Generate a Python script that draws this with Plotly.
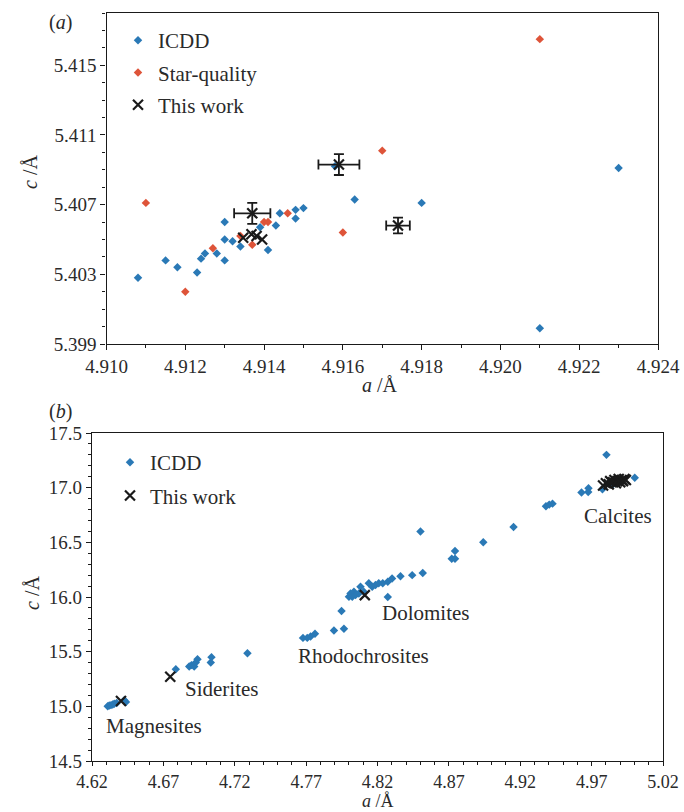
import plotly.graph_objects as go

# ---------------- Panel (a): quartz-like lattice a vs c ----------------
icdd_a_x = [4.9108, 4.9115, 4.9118, 4.9123, 4.9124, 4.9125, 4.9128, 4.9130, 4.9130,
            4.9130, 4.9132, 4.9134, 4.9139, 4.9141, 4.9143, 4.9144, 4.9148, 4.9148,
            4.9150, 4.9158, 4.9163, 4.9180, 4.9230, 4.9210]
icdd_a_y = [5.4028, 5.4038, 5.4034, 5.4031, 5.4039, 5.4042, 5.4042, 5.4038, 5.4050,
            5.4060, 5.4049, 5.4046, 5.4057, 5.4044, 5.4058, 5.4065, 5.4067, 5.4062,
            5.4068, 5.4092, 5.4073, 5.4071, 5.4091, 5.3999]

star_x = [4.9110, 4.9120, 4.9127, 4.9134, 4.9137, 4.9140, 4.9141, 4.9146, 4.9160,
          4.9170, 4.9210]
star_y = [5.4071, 5.4020, 5.4045, 5.4052, 5.4047, 5.4060, 5.4060, 5.4065, 5.4054,
          5.4101, 5.4165]

work_err_x = [4.9137, 4.9159, 4.9174]
work_err_y = [5.4065, 5.4093, 5.4058]
work_err_dx = [0.00046, 0.00052, 0.00030]
work_err_dy = [0.00060, 0.00060, 0.00045]

work_a_x = [4.91347, 4.91368, 4.91381, 4.91395]
work_a_y = [5.4051, 5.4053, 5.4052, 5.4050]

# ---------------- Panel (b): carbonates ----------------
icdd_b_x = [
    # magnesites
    4.6310, 4.6321, 4.6333, 4.6345, 4.6356, 4.6373, 4.6426, 4.6438,
    # siderites
    4.6787, 4.6881, 4.6897, 4.6916, 4.6927, 4.6939, 4.7032, 4.7037, 4.7289,
    # rhodochrosites
    4.7678, 4.7708, 4.7731, 4.7762, 4.7895, 4.7965, 4.7948,
    # dolomites
    4.8000, 4.8011, 4.8023, 4.8035, 4.8046, 4.8069, 4.8081, 4.8104, 4.8139,
    4.8163, 4.8186, 4.8209, 4.8237, 4.8272, 4.8302, 4.8272, 4.8361, 4.8443,
    4.8517, 4.8501,
    # intermediate / calcites
    4.8720, 4.8743, 4.8743, 4.8941, 4.9153, 4.9380, 4.9403, 4.9426, 4.9629,
    4.9676, 4.9678, 4.9776, 4.9804, 5.0002, 4.9850, 4.9900]
icdd_b_y = [
    15.000, 15.008, 15.011, 15.017, 15.023, 15.030, 15.055, 15.040,
    15.340, 15.365, 15.377, 15.365, 15.400, 15.430, 15.400, 15.450, 15.485,
    15.626, 15.626, 15.638, 15.663, 15.694, 15.709, 15.872,
    16.002, 16.032, 16.002, 16.048, 16.017, 16.032, 16.094, 16.048, 16.125,
    16.094, 16.109, 16.125, 16.125, 16.140, 16.170, 16.000, 16.190, 16.200,
    16.220, 16.600,
    16.350, 16.350, 16.420, 16.500, 16.640, 16.830, 16.845, 16.854, 16.955,
    16.960, 16.995, 16.986, 17.300, 17.090, 17.030, 17.060]

work_b_x = [4.6403, 4.6748, 4.8111,
            4.978, 4.980, 4.982, 4.983, 4.985, 4.986, 4.987, 4.988, 4.989,
            4.990, 4.991, 4.992, 4.993, 4.994]
work_b_y = [15.048, 15.270, 16.017,
            17.02, 17.04, 17.03, 17.06, 17.05, 17.07, 17.04, 17.06, 17.08,
            17.05, 17.07, 17.06, 17.08, 17.07]

group_labels = ["Magnesites", "Siderites", "Rhodochrosites", "Dolomites", "Calcites"]
group_label_x = [4.6631, 4.7111, 4.8100, 4.8543, 4.9883]
group_label_y = [14.82, 15.16, 15.46, 15.85, 16.74]

BLUE = "#2A79B6"
RED = "#DE5439"
INK = "#1a1a1a"
TXT = "#2a2a2a"
FONT = "'Liberation Serif', 'Times New Roman', Times, serif"
W, H = 684, 812


def px(x):
    return x / W


def py(y):
    return 1 - y / H


fig = go.Figure()

dia = dict(symbol="diamond", size=6.5, line=dict(width=0))
xm = dict(symbol="x-thin", size=10, color=INK, line=dict(width=2.2, color=INK))

# panel (a)
fig.add_trace(go.Scatter(x=icdd_a_x, y=icdd_a_y, mode="markers", name="ICDD",
                         marker=dict(color=BLUE, **dia), xaxis="x", yaxis="y",
                         legend="legend", legendgroup="g1"))
fig.add_trace(go.Scatter(x=star_x, y=star_y, mode="markers", name="Star-quality",
                         marker=dict(color=RED, **dia), xaxis="x", yaxis="y",
                         legend="legend", legendgroup="g2"))
fig.add_trace(go.Scatter(x=work_err_x, y=work_err_y, mode="markers", name="This work",
                         marker=xm, xaxis="x", yaxis="y", showlegend=False,
                         error_x=dict(type="data", array=work_err_dx, color=INK,
                                      thickness=1.8, width=5),
                         error_y=dict(type="data", array=work_err_dy, color=INK,
                                      thickness=1.8, width=5)))
fig.add_trace(go.Scatter(x=work_a_x, y=work_a_y, mode="markers", name="This work",
                         marker=xm, xaxis="x", yaxis="y",
                         legend="legend", legendgroup="g3"))

# panel (b)
fig.add_trace(go.Scatter(x=icdd_b_x, y=icdd_b_y, mode="markers", name="ICDD",
                         marker=dict(color=BLUE, **dia), xaxis="x2", yaxis="y2",
                         legend="legend2", legendgroup="h1"))
fig.add_trace(go.Scatter(x=work_b_x, y=work_b_y, mode="markers", name="This work",
                         marker=xm, xaxis="x2", yaxis="y2",
                         legend="legend2", legendgroup="h2"))

tickfont = dict(family=FONT, size=19, color=TXT)
axis_common = dict(showline=True, linecolor=INK, linewidth=1.4, mirror=True,
                   tickwidth=1.2, tickcolor=INK, ticks="outside",
                   showgrid=False, zeroline=False, automargin=False)

fig.update_layout(
    width=W, height=H,
    margin=dict(l=0, r=0, t=0, b=0),
    paper_bgcolor="white", plot_bgcolor="white",
    font=dict(family=FONT, color=TXT),
    xaxis=dict(domain=[px(106.5), px(658)], anchor="y", range=[4.910, 4.924],
               tick0=4.910, dtick=0.002, tickformat=".3f", ticklen=5,
               tickfont=tickfont,
               minor=dict(dtick=0.001, ticks="outside", ticklen=3, tickcolor=INK),
               **axis_common),
    yaxis=dict(domain=[py(344), py(13)], anchor="x", range=[5.399, 5.418],
               tick0=5.399, dtick=0.004, tickformat=".3f", ticklen=5,
               tickfont=tickfont,
               minor=dict(dtick=0.001, ticks="outside", ticklen=3, tickcolor=INK),
               **axis_common),
    xaxis2=dict(domain=[px(92), px(663)], anchor="y2", range=[4.62, 5.02],
                tick0=4.62, dtick=0.05, tickformat=".2f", ticklen=4,
                tickfont=dict(family=FONT, size=18, color=TXT),
                minor=dict(dtick=0.01, ticks="outside", ticklen=3, tickcolor=INK),
                **axis_common),
    yaxis2=dict(domain=[py(761), py(433)], anchor="x2", range=[14.5, 17.5],
                tick0=14.5, dtick=0.5, tickformat=".1f", ticklen=5,
                tickfont=tickfont,
                minor=dict(dtick=0.1, ticks="outside", ticklen=3, tickcolor=INK),
                **axis_common),
    legend=dict(x=px(118), y=py(20), xanchor="left", yanchor="top",
                bgcolor="rgba(0,0,0,0)", borderwidth=0,
                font=dict(family=FONT, size=21, color=TXT),
                traceorder="grouped", tracegroupgap=2, itemwidth=30),
    legend2=dict(x=px(110), y=py(442), xanchor="left", yanchor="top",
                 bgcolor="rgba(0,0,0,0)", borderwidth=0,
                 font=dict(family=FONT, size=21, color=TXT),
                 traceorder="grouped", tracegroupgap=3, itemwidth=30),
    showlegend=True,
)


def paper_text(text, x, y, size=20, angle=0):
    return dict(text=text, x=px(x), y=py(y), xref="paper", yref="paper",
                xanchor="center", yanchor="middle", showarrow=False,
                textangle=angle, font=dict(family=FONT, size=size, color=TXT))


ann = [
    paper_text("(<i>a</i>)", 60, 22),
    paper_text("(<i>b</i>)", 60, 411),
    paper_text("<i>a</i> /Å", 380, 385),
    paper_text("<i>a</i> /Å", 378, 801, size=18),
    paper_text("<i>c</i> /Å", 30, 172, angle=-90),
    paper_text("<i>c</i> /Å", 32, 593, angle=-90),
]
# mineral group labels in data coordinates of panel (b)
for t, gx, gy in zip(group_labels, group_label_x, group_label_y):
    ann.append(dict(text=t, x=gx, y=gy, xref="x2", yref="y2", showarrow=False,
                    xanchor="center", yanchor="middle",
                    font=dict(family=FONT, size=21, color=TXT)))
fig.update_layout(annotations=ann)

fig.write_html("out.html")
